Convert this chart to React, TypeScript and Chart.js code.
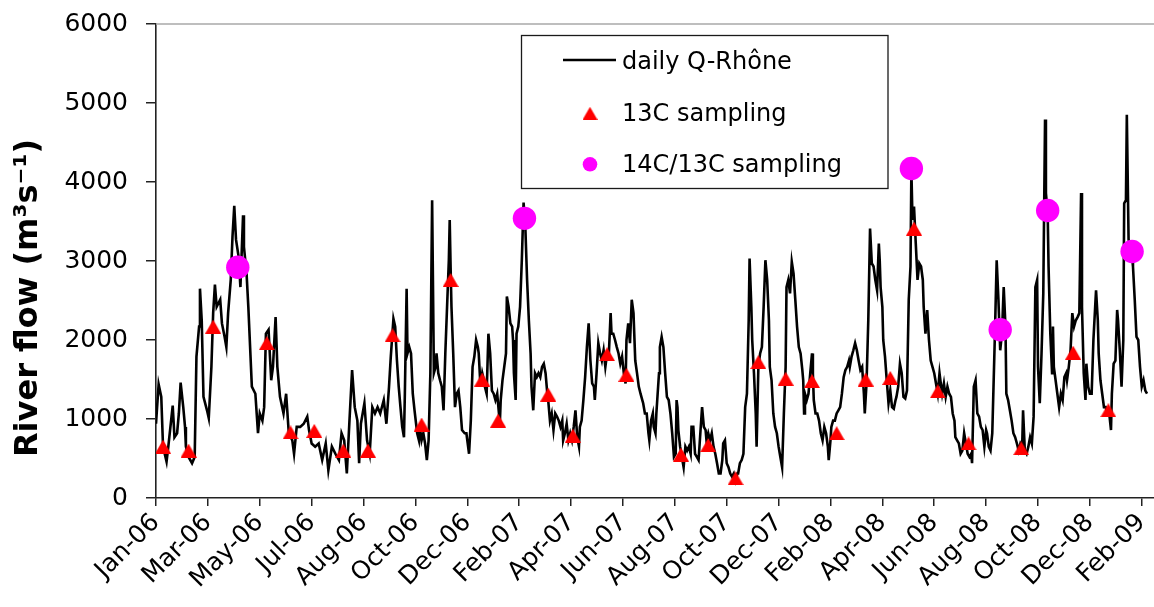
import React, { useEffect, useRef } from "react";
import { Chart, registerables } from "chart.js";

Chart.register(...registerables);

// ---- axis labels ----
const TICK_LABELS = [
  "Jan-06", "Mar-06", "May-06", "Jul-06", "Aug-06", "Oct-06", "Dec-06",
  "Feb-07", "Apr-07", "Jun-07", "Aug-07", "Oct-07", "Dec-07",
  "Feb-08", "Apr-08", "Jun-08", "Aug-08", "Oct-08", "Dec-08", "Feb-09",
];
const TICK_FIRST_DAY = 5; // days since 2006-01-01
const TICK_STEP_DAYS = 59;
const X_MIN_DAY = 5;
const X_MAX_DAY = 1149;
const Y_MIN = 0;
const Y_MAX = 6000;
const Y_STEP = 1000;
const Y_TITLE = "River flow (m³s⁻¹)";
const LEGEND_LABELS = ["daily Q-Rhône", "13C sampling", "14C/13C sampling"];

// ---- daily Rhône discharge (day since 2006-01-01, m3/s) ----
const FLOW_DAYS = [
  5, 8, 11, 13, 17, 19, 24, 26, 29, 31,
  33, 36, 38, 39, 42, 46, 49, 51, 54, 55,
  57, 59, 63, 65, 68, 70, 72, 74, 78, 80,
  83, 85, 87, 90, 92, 94, 96, 99, 101, 104,
  105, 108, 110, 114, 118, 121, 123, 126, 128, 130,
  133, 136, 138, 141, 143, 146, 150, 153, 156, 160,
  162, 165, 169, 173, 177, 179, 182, 186, 190, 194,
  198, 201, 205, 209, 213, 216, 219, 222, 225, 228,
  231, 234, 236, 238, 242, 245, 248, 251, 254, 257,
  260, 264, 267, 270, 272, 275, 277, 279, 281, 283,
  285, 287, 288, 290, 291, 293, 295, 297, 299, 302,
  304, 305, 307, 309, 311, 313, 315, 317, 319, 321,
  323, 324, 326, 328, 330, 332, 334, 336, 338, 339,
  340, 341, 343, 345, 347, 349, 351, 353, 356, 358,
  359, 361, 363, 365, 367, 369, 371, 372, 374, 376,
  377, 379, 381, 383, 385, 387, 389, 391, 393, 395,
  396, 397, 399, 401, 403, 404, 406, 408, 410, 411,
  412, 414, 415, 417, 419, 421, 423, 425, 427, 429,
  431, 432, 434, 436, 438, 440, 442, 444, 446, 448,
  450, 451, 453, 455, 457, 459, 461, 463, 465, 467,
  468, 470, 472, 474, 476, 478, 480, 482, 484, 486,
  487, 489, 491, 493, 495, 497, 499, 501, 503, 504,
  506, 508, 510, 512, 514, 516, 518, 520, 522, 523,
  525, 527, 529, 531, 533, 535, 537, 539, 540, 542,
  544, 546, 548, 550, 552, 554, 556, 558, 559, 561,
  563, 565, 566, 568, 570, 571, 573, 574, 575, 577,
  578, 580, 582, 584, 586, 588, 590, 592, 594, 596,
  597, 598, 599, 601, 603, 605, 607, 609, 611, 613,
  614, 616, 618, 620, 622, 624, 626, 628, 630, 631,
  633, 635, 637, 639, 641, 643, 645, 647, 649, 650,
  652, 654, 656, 658, 660, 662, 664, 666, 667, 669,
  671, 673, 675, 677, 679, 680, 682, 683, 685, 687,
  688, 690, 692, 694, 696, 698, 700, 702, 703, 705,
  707, 709, 711, 713, 715, 717, 719, 721, 722, 724,
  726, 728, 730, 732, 734, 736, 738, 740, 741, 742,
  743, 745, 747, 749, 751, 752, 753, 755, 757, 759,
  761, 763, 765, 767, 769, 770, 772, 773, 775, 777,
  779, 781, 783, 785, 787, 789, 791, 793, 794, 796,
  798, 800, 802, 804, 806, 808, 810, 811, 813, 815,
  817, 819, 821, 823, 825, 827, 828, 829, 831, 832,
  834, 836, 838, 840, 842, 844, 846, 847, 849, 851,
  853, 855, 857, 859, 861, 863, 864, 865, 866, 867,
  869, 871, 873, 875, 877, 878, 880, 882, 884, 886,
  888, 890, 892, 894, 896, 897, 899, 901, 903, 905,
  907, 909, 911, 913, 914, 916, 918, 920, 922, 924,
  926, 928, 930, 932, 933, 935, 937, 939, 941, 943,
  945, 947, 949, 950, 952, 954, 956, 957, 959, 961,
  963, 965, 967, 969, 971, 972, 974, 976, 978, 980,
  982, 984, 986, 988, 990, 991, 993, 995, 997, 999,
  1001, 1003, 1005, 1007, 1008, 1010, 1012, 1014, 1016, 1017,
  1019, 1020, 1022, 1024, 1025, 1026, 1028, 1030, 1032, 1034,
  1036, 1038, 1040, 1041, 1043, 1045, 1047, 1049, 1051, 1053,
  1055, 1057, 1058, 1060, 1062, 1063, 1065, 1067, 1069, 1071,
  1073, 1074, 1076, 1077, 1079, 1081, 1083, 1085, 1087, 1089,
  1091, 1092, 1094, 1096, 1098, 1099, 1101, 1103, 1105, 1106,
  1108, 1109, 1111, 1113, 1115, 1116, 1118, 1120, 1122, 1124,
  1126, 1128, 1130, 1132,
];
const FLOW_VALUES = [
  940, 1440, 1280, 650, 460, 650, 1170, 770, 820, 1070,
  1460, 1150, 900, 650, 520, 440, 520, 1790, 2170, 2650,
  2250, 1280, 1110, 1010, 1660, 2340, 2700, 2420, 2510, 2210,
  2040, 1910, 2340, 2760, 3310, 3700, 3270, 3050, 2670, 3580,
  3180, 2840, 2420, 1410, 1320, 820, 1070, 980, 1150, 2080,
  2130, 1490, 1660, 2290, 1660, 1280, 1070, 1320, 820, 730,
  560, 900, 900, 940, 1030, 860, 690, 650, 690, 480,
  690, 350, 650, 560, 480, 820, 730, 310, 980, 1620,
  1150, 980, 440, 940, 1200, 730, 560, 1150, 1070, 1150,
  1070, 1240, 940, 1410, 1790, 2270, 2170, 1740, 1410, 1150,
  900, 770, 1320, 2650, 1830, 1910, 1830, 1320, 1110, 820,
  730, 900, 730, 820, 690, 480, 730, 1580, 3770, 1580,
  1660, 1830, 1580, 1490, 1410, 1110, 1830, 2420, 3010, 3520,
  2930, 2420, 1830, 1150, 1320, 1360, 1150, 860, 820, 820,
  730, 560, 980, 1660, 1790, 2000, 1910, 1830, 1410, 1580,
  1530, 1410, 1320, 2080, 1830, 1360, 1320, 1240, 1320, 1070,
  940, 1240, 1490, 1660, 1830, 2550, 2420, 2210, 2170, 2000,
  1580, 1240, 2080, 2170, 2420, 3010, 3740, 3430, 2760, 2250,
  1830, 1410, 1110, 1580, 1530, 1580, 1530, 1660, 1700, 1580,
  1320, 1240, 980, 1070, 860, 1070, 1030, 980, 900, 980,
  730, 820, 940, 730, 820, 730, 900, 1110, 770, 650,
  900, 980, 1240, 1530, 1910, 2210, 1740, 1450, 1410, 1240,
  1580, 1960, 1830, 1740, 1870, 1660, 1830, 1830, 2340, 2080,
  2080, 2000, 1910, 1830, 1700, 1790, 1580, 1450, 2000, 2210,
  1960, 2510, 2340, 1740, 1580, 1410, 1320, 1240, 1200, 1070,
  1070, 820, 730, 980, 1070, 900, 820, 1070, 1240, 1580,
  1910, 2040, 1910, 1580, 1280, 1240, 1070, 820, 520, 560,
  1240, 1150, 860, 650, 520, 390, 650, 600, 650, 560,
  900, 900, 560, 520, 480, 820, 1150, 900, 860, 730,
  820, 730, 820, 650, 560, 440, 310, 310, 480, 690,
  730, 440, 390, 310, 270, 310, 220, 310, 310, 440,
  480, 560, 1150, 1320, 2250, 3030, 2420, 2000, 1580, 1070,
  650, 1660, 1830, 1910, 2420, 3010, 2760, 2250, 1660, 1490,
  1070, 900, 820, 650, 520, 390, 1070, 1660, 2670, 2760,
  2590, 2990, 2840, 2510, 2170, 1910, 1830, 1620, 1490, 1070,
  1320, 1240, 1320, 1580, 1830, 1580, 1240, 1070, 1070, 980,
  820, 730, 900, 820, 650, 480, 730, 900, 980, 980,
  1070, 1110, 1150, 1320, 1530, 1620, 1660, 1740, 1660, 1790,
  1870, 1960, 1870, 1740, 1620, 1660, 1320, 1070, 1450, 2250,
  3410, 2970, 2930, 2760, 2630, 3220, 3010, 2670, 2420, 2000,
  1790, 1490, 1200, 1360, 1150, 1130, 1240, 1280, 1410, 1700,
  1580, 1280, 1260, 1360, 2510, 2930, 4150, 3650, 3520, 3690,
  3220, 2760, 2970, 2930, 2760, 2420, 2080, 2380, 2000, 1740,
  1660, 1580, 1450, 1320, 1580, 1490, 1320, 1450, 1280, 1410,
  1320, 1280, 1070, 980, 770, 730, 690, 560, 600, 820,
  690, 560, 520, 560, 440, 1410, 1490, 1070, 1030, 900,
  860, 650, 860, 820, 650, 600, 820, 1240, 2080, 3010,
  2510, 1870, 2080, 2670, 2170, 1320, 1240, 1110, 980, 820,
  770, 690, 600, 690, 650, 1110, 600, 560, 650, 770,
  690, 1030, 2670, 2760, 1660, 1200, 1830, 2590, 4790, 3860,
  3600, 2930, 2080, 1580, 2170, 1660, 1490, 1320, 1150, 1320,
  1240, 1530, 1580, 1490, 1660, 1870, 2340, 2170, 2250, 2290,
  2340, 3860, 2420, 1580, 1240, 1700, 1410, 1320, 1320, 2000,
  2420, 2630, 2250, 1830, 1490, 1320, 1150, 1150, 1070, 1070,
  860, 1320, 1700, 1740, 2380, 2250, 1870, 1410, 2000, 3730,
  3770, 4850, 3270, 3180, 3050, 2930, 2510, 2040, 2000, 1660,
  1410, 1490, 1360, 1320,
];

// ---- 13C sampling ----
const C13_DAYS = [
  13, 42, 70, 131, 158, 185, 218, 246, 274, 307, 340, 376, 394, 451, 479, 518,
  540, 602, 633, 664, 690, 721, 751, 779, 812, 840, 867, 894, 929, 989, 1048, 1088,
];
const C13_VALUES = [
  650, 600, 2170, 1960, 830, 850, 600, 600, 2060, 930, 2760, 1500, 980, 1310, 790, 1820,
  1560, 550, 670, 250, 1720, 1510, 1480, 820, 1500, 1520, 3410, 1350, 690, 630, 1840, 1110,
];

// ---- 14C/13C sampling ----
const C14_DAYS = [98, 424, 864, 965, 1019, 1115];
const C14_VALUES = [2920, 3540, 4170, 2130, 3640, 3120];

const FONT = '"DejaVu Sans", Verdana, sans-serif';
const RED = "#ff0000";
const MAGENTA = "#ff00ff";

function makeTriangle(w: number, h: number, color: string): HTMLCanvasElement {
  const c = document.createElement("canvas");
  c.width = w;
  c.height = h;
  const g = c.getContext("2d")!;
  g.fillStyle = color;
  g.beginPath();
  g.moveTo(w / 2, 0);
  g.lineTo(w, h);
  g.lineTo(0, h);
  g.closePath();
  g.fill();
  return c;
}

export default function App() {
  const ref = useRef<HTMLCanvasElement>(null);

  useEffect(() => {
    const canvas = ref.current;
    if (!canvas) return;
    const tri = makeTriangle(16, 14, RED);
    const triLegend = makeTriangle(15, 13, RED);

    const flowPoints = FLOW_DAYS.map((d, i) => ({ x: d, y: FLOW_VALUES[i] }));
    const c13Points = C13_DAYS.map((d, i) => ({ x: d, y: C13_VALUES[i] }));
    const c14Points = C14_DAYS.map((d, i) => ({ x: d, y: C14_VALUES[i] }));

    const framePlugin = {
      id: "frameTop",
      beforeDatasetsDraw(chart: any) {
        const { ctx, chartArea } = chart;
        ctx.save();
        ctx.strokeStyle = "#a8a8a8";
        ctx.lineWidth = 1.5;
        ctx.beginPath();
        ctx.moveTo(chartArea.left, chartArea.top);
        ctx.lineTo(chartArea.right, chartArea.top);
        ctx.stroke();
        ctx.restore();
      },
    };

    const titlePlugin = {
      id: "yTitle",
      afterDraw(chart: any) {
        const { ctx } = chart;
        ctx.save();
        ctx.translate(37, 298);
        ctx.rotate(-Math.PI / 2);
        ctx.font = `bold 32px ${FONT}`;
        ctx.fillStyle = "#000";
        ctx.textAlign = "center";
        ctx.textBaseline = "alphabetic";
        ctx.fillText(Y_TITLE, 0, 0);
        ctx.restore();
      },
    };

    const legendPlugin = {
      id: "boxLegend",
      afterDraw(chart: any) {
        const { ctx } = chart;
        ctx.save();
        const bx = 521.5, by = 35.5, bw = 366.5, bh = 153;
        ctx.fillStyle = "#fff";
        ctx.fillRect(bx, by, bw, bh);
        ctx.strokeStyle = "#1a1a1a";
        ctx.lineWidth = 1.3;
        ctx.strokeRect(bx, by, bw, bh);
        const markerX = 590;
        ctx.strokeStyle = "#000";
        ctx.lineWidth = 2.4;
        ctx.beginPath();
        ctx.moveTo(563, 60);
        ctx.lineTo(616, 60);
        ctx.stroke();
        ctx.drawImage(triLegend, markerX - triLegend.width / 2, 113.3 - triLegend.height / 2);
        ctx.fillStyle = MAGENTA;
        ctx.beginPath();
        ctx.arc(markerX, 164.3, 7.3, 0, Math.PI * 2);
        ctx.fill();
        ctx.fillStyle = "#000";
        ctx.font = `24px ${FONT}`;
        ctx.textAlign = "left";
        ctx.textBaseline = "alphabetic";
        const baselines = [69, 120.5, 171.5];
        LEGEND_LABELS.forEach((t, i) => ctx.fillText(t, 622, baselines[i]));
        ctx.restore();
      },
    };

    const chart = new Chart(canvas, {
      type: "line",
      data: {
        datasets: [
          {
            label: LEGEND_LABELS[2],
            data: c14Points,
            showLine: false,
            pointStyle: "circle",
            pointRadius: 11.7,
            pointBackgroundColor: MAGENTA,
            pointBorderColor: MAGENTA,
            pointBorderWidth: 0,
            backgroundColor: MAGENTA,
            borderColor: MAGENTA,
            order: 1,
          },
          {
            label: LEGEND_LABELS[1],
            data: c13Points,
            showLine: false,
            pointStyle: tri as any,
            pointRadius: 8,
            pointBackgroundColor: RED,
            pointBorderColor: RED,
            backgroundColor: RED,
            borderColor: RED,
            order: 2,
          },
          {
            label: LEGEND_LABELS[0],
            data: flowPoints,
            borderColor: "#000",
            backgroundColor: "#000",
            borderWidth: 2.6,
            pointRadius: 0,
            tension: 0,
            fill: false,
            order: 3,
          },
        ],
      },
      options: {
        responsive: false,
        maintainAspectRatio: false,
        animation: false,
        events: [],
        layout: { padding: { left: 0, top: 24, right: 28, bottom: 0 } },
        plugins: {
          legend: { display: false },
          tooltip: { enabled: false },
          title: { display: false },
        },
        scales: {
          x: {
            type: "linear",
            min: X_MIN_DAY,
            max: X_MAX_DAY,
            bounds: "data",
            afterBuildTicks: (scale: any) => {
              scale.ticks = TICK_LABELS.map((_, i) => ({ value: TICK_FIRST_DAY + i * TICK_STEP_DAYS }));
            },
            afterFit: (scale: any) => {
              scale.height = 109;
              scale.paddingLeft = 0;
              scale.paddingRight = 0;
            },
            grid: {
              display: true,
              drawOnChartArea: false,
              drawTicks: true,
              tickLength: 8,
              color: "#222",
              lineWidth: 1.5,
            },
            border: { display: true, color: "#222", width: 1.6 },
            ticks: {
              autoSkip: false,
              maxRotation: 45,
              minRotation: 45,
              padding: 2,
              color: "#000",
              font: { family: FONT, size: 25 },
              callback: (_v: any, i: number) => TICK_LABELS[i],
            },
          },
          y: {
            type: "linear",
            min: Y_MIN,
            max: Y_MAX,
            afterFit: (scale: any) => {
              scale.width = 156;
              scale.paddingTop = 0;
              scale.paddingBottom = 0;
            },
            grid: {
              display: true,
              drawOnChartArea: false,
              drawTicks: true,
              tickLength: 10,
              color: "#222",
              lineWidth: 1.5,
            },
            border: { display: true, color: "#222", width: 1.6 },
            ticks: {
              stepSize: Y_STEP,
              padding: 18,
              color: "#000",
              font: { family: FONT, size: 25 },
              callback: (v: any) => String(v),
            },
          },
        },
      },
      plugins: [framePlugin, titlePlugin, legendPlugin],
    } as any);

    return () => chart.destroy();
  }, []);

  return (
    <div
      style={{
        position: "fixed",
        left: 0,
        top: 0,
        width: 1154,
        height: 607,
        overflow: "hidden",
        background: "#fff",
      }}
    >
      <canvas ref={ref} width={1190} height={607} style={{ display: "block" }} />
    </div>
  );
}
